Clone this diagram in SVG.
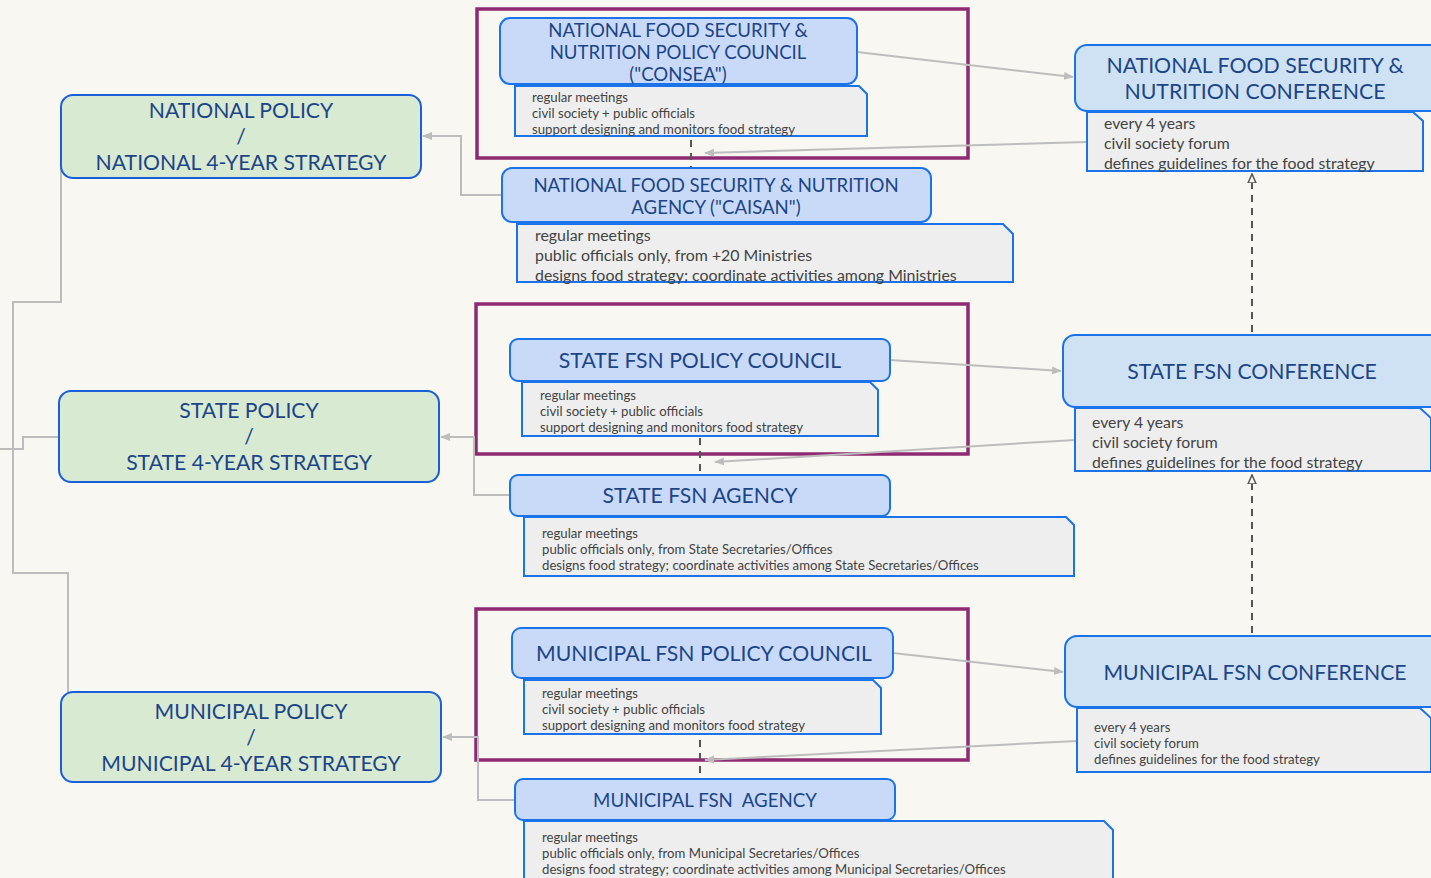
<svg xmlns="http://www.w3.org/2000/svg" width="1431" height="878" viewBox="0 0 1431 878">
<defs>
<marker id="ah" viewBox="0 0 10 10" refX="9" refY="5" markerWidth="10" markerHeight="10" markerUnits="userSpaceOnUse" orient="auto">
<path d="M0,1 L10,5 L0,9 Z" fill="#bdbdbd"/>
</marker>
<marker id="oh" viewBox="0 0 10 12" refX="9" refY="6" markerWidth="10" markerHeight="12" markerUnits="userSpaceOnUse" orient="auto">
<path d="M0,2 L9,6 L0,10 Z" fill="#f8f7f1" stroke="#555" stroke-width="1.5"/>
</marker>
<style>
.g{fill:#d9ead3;stroke:#1a5fd8;stroke-width:2}
.b{fill:#c9daf8;stroke:#1a73e8;stroke-width:2}
.c{fill:#cfe2f3;stroke:#1a73e8;stroke-width:2}
.n{fill:#eeeeee;stroke:#1a73e8;stroke-width:2}
.p{fill:none;stroke:#8e2a72;stroke-width:3.5}
.t{font-family:Lato,"Liberation Sans",sans-serif;fill:#1c4587;text-anchor:middle}
.s{font-family:Lato,"Liberation Sans",sans-serif;fill:#434343}
.ln{fill:none;stroke:#bdbdbd;stroke-width:2}
.dl{fill:none;stroke:#555;stroke-width:2;stroke-dasharray:7 6}
</style>
</defs>
<rect width="1431" height="878" fill="#f8f7f1"/>

<g id="frames">
<rect class="p" x="477" y="9" width="491" height="149"/>
<rect class="p" x="476" y="304" width="492" height="150"/>
<rect class="p" x="476" y="609" width="492" height="151"/>
</g>

<g id="connectors">
<polyline class="ln" points="61,158 61,302 13,302 13,573 68,573 68,692"/>
<polyline class="ln" points="0,449 23,449 23,437 59,437"/>
<polyline class="ln" points="502,195 461,195 461,136 423,136" marker-end="url(#ah)"/>
<polyline class="ln" points="510,495 474,495 474,437 441,437" marker-end="url(#ah)"/>
<polyline class="ln" points="515,800 478,800 478,737 443,737" marker-end="url(#ah)"/>
<line class="ln" x1="857" y1="52" x2="1073" y2="77" marker-end="url(#ah)"/>
<line class="ln" x1="1087" y1="142" x2="705" y2="153" marker-end="url(#ah)"/>
<line class="ln" x1="890" y1="360" x2="1061" y2="371" marker-end="url(#ah)"/>
<line class="ln" x1="1075" y1="440" x2="715" y2="462" marker-end="url(#ah)"/>
<line class="ln" x1="893" y1="653" x2="1063" y2="672" marker-end="url(#ah)"/>
<line class="ln" x1="1077" y1="741" x2="705" y2="760" marker-end="url(#ah)"/>
<line class="dl" x1="691" y1="140" x2="691" y2="168"/>
<line class="dl" x1="700" y1="438" x2="700" y2="475"/>
<line class="dl" x1="700" y1="740" x2="700" y2="779"/>
<line class="dl" x1="1252" y1="332" x2="1252" y2="174" marker-end="url(#oh)"/>
<line class="dl" x1="1252" y1="633" x2="1252" y2="475" marker-end="url(#oh)"/>
</g>

<g id="national-policy">
<rect class="g" x="61" y="95" width="360" height="83" rx="12"/>
<text class="t" font-size="21.2"><tspan x="241" y="118">NATIONAL POLICY</tspan><tspan x="241" y="144">/</tspan><tspan x="241" y="170">NATIONAL 4-YEAR STRATEGY</tspan></text>
</g>
<g id="state-policy">
<rect class="g" x="59" y="391" width="380" height="91" rx="12"/>
<text class="t" font-size="21.2"><tspan x="249" y="418">STATE POLICY</tspan><tspan x="249" y="444">/</tspan><tspan x="249" y="470">STATE 4-YEAR STRATEGY</tspan></text>
</g>
<g id="municipal-policy">
<rect class="g" x="61" y="692" width="380" height="90" rx="12"/>
<text class="t" font-size="21.2"><tspan x="251" y="719">MUNICIPAL POLICY</tspan><tspan x="251" y="745">/</tspan><tspan x="251" y="771">MUNICIPAL 4-YEAR STRATEGY</tspan></text>
</g>

<g id="consea">
<path class="n" d="M515,86 H859 L867,94 V136 H515 Z"/>
<rect class="b" x="500" y="18" width="357" height="66" rx="10"/>
<text class="t" font-size="18.6"><tspan x="678" y="37">NATIONAL FOOD SECURITY &amp;</tspan><tspan x="678" y="59">NUTRITION POLICY COUNCIL</tspan><tspan x="678" y="81">("CONSEA")</tspan></text>
<text class="s" font-size="13.2"><tspan x="532" y="102">regular meetings</tspan><tspan x="532" y="118">civil society + public officials</tspan><tspan x="532" y="134">support designing and monitors food strategy</tspan></text>
</g>

<g id="caisan">
<path class="n" d="M517,224 H1003 L1013,234 V282 H517 Z"/>
<rect class="b" x="502" y="168" width="429" height="54" rx="10"/>
<text class="t" font-size="18.6"><tspan x="716" y="192">NATIONAL FOOD SECURITY &amp; NUTRITION</tspan><tspan x="716" y="214">AGENCY ("CAISAN")</tspan></text>
<text class="s" font-size="15.9"><tspan x="535" y="241">regular meetings</tspan><tspan x="535" y="261">public officials only, from +20 Ministries</tspan><tspan x="535" y="281">designs food strategy; coordinate activities among Ministries</tspan></text>
</g>

<g id="national-conference">
<path class="n" d="M1087,112 H1413 L1423,121 V171 H1087 Z"/>
<rect class="c" x="1075" y="45" width="368" height="66" rx="12"/>
<text class="t" font-size="21.3"><tspan x="1255" y="73">NATIONAL FOOD SECURITY &amp;</tspan><tspan x="1255" y="99">NUTRITION CONFERENCE</tspan></text>
<text class="s" font-size="15.8"><tspan x="1104" y="129">every 4 years</tspan><tspan x="1104" y="149">civil society forum</tspan><tspan x="1104" y="169">defines guidelines for the food strategy</tspan></text>
</g>

<g id="state-council">
<path class="n" d="M522,382 H870 L878,390 V436 H522 Z"/>
<rect class="b" x="510" y="339" width="380" height="42" rx="8"/>
<text class="t" font-size="21.2" x="700" y="368">STATE FSN POLICY COUNCIL</text>
<text class="s" font-size="13.2"><tspan x="540" y="400">regular meetings</tspan><tspan x="540" y="416">civil society + public officials</tspan><tspan x="540" y="432">support designing and monitors food strategy</tspan></text>
</g>

<g id="state-agency">
<path class="n" d="M524,517 H1066 L1074,525 V576 H524 Z"/>
<rect class="b" x="510" y="475" width="380" height="41" rx="8"/>
<text class="t" font-size="21.2" x="700" y="503">STATE FSN AGENCY</text>
<text class="s" font-size="13.2"><tspan x="542" y="538">regular meetings</tspan><tspan x="542" y="554">public officials only, from State Secretaries/Offices</tspan><tspan x="542" y="570">designs food strategy; coordinate activities among State Secretaries/Offices</tspan></text>
</g>

<g id="state-conference">
<path class="n" d="M1075,408 H1420 L1431,418 V471 H1075 Z"/>
<rect class="c" x="1063" y="335" width="380" height="72" rx="12"/>
<text class="t" font-size="21.2" x="1252" y="379">STATE FSN CONFERENCE</text>
<text class="s" font-size="15.8"><tspan x="1092" y="428">every 4 years</tspan><tspan x="1092" y="448">civil society forum</tspan><tspan x="1092" y="468">defines guidelines for the food strategy</tspan></text>
</g>

<g id="municipal-council">
<path class="n" d="M524,680 H873 L881,688 V734 H524 Z"/>
<rect class="b" x="512" y="628" width="381" height="50" rx="9"/>
<text class="t" font-size="21.2" x="704" y="661">MUNICIPAL FSN POLICY COUNCIL</text>
<text class="s" font-size="13.2"><tspan x="542" y="698">regular meetings</tspan><tspan x="542" y="714">civil society + public officials</tspan><tspan x="542" y="730">support designing and monitors food strategy</tspan></text>
</g>

<g id="municipal-agency">
<path class="n" d="M524,821 H1104 L1113,830 V890 H524 Z"/>
<rect class="b" x="515" y="779" width="380" height="41" rx="8"/>
<text class="t" font-size="18.7" x="705" y="807" xml:space="preserve">MUNICIPAL FSN  AGENCY</text>
<text class="s" font-size="13.2"><tspan x="542" y="842">regular meetings</tspan><tspan x="542" y="858">public officials only, from Municipal Secretaries/Offices</tspan><tspan x="542" y="874">designs food strategy; coordinate activities among Municipal Secretaries/Offices</tspan></text>
</g>

<g id="municipal-conference">
<path class="n" d="M1077,708 H1420 L1431,718 V772 H1077 Z"/>
<rect class="c" x="1065" y="636" width="380" height="71" rx="12"/>
<text class="t" font-size="21.2" x="1255" y="680">MUNICIPAL FSN CONFERENCE</text>
<text class="s" font-size="13.2"><tspan x="1094" y="732">every 4 years</tspan><tspan x="1094" y="748">civil society forum</tspan><tspan x="1094" y="764">defines guidelines for the food strategy</tspan></text>
</g>
</svg>
